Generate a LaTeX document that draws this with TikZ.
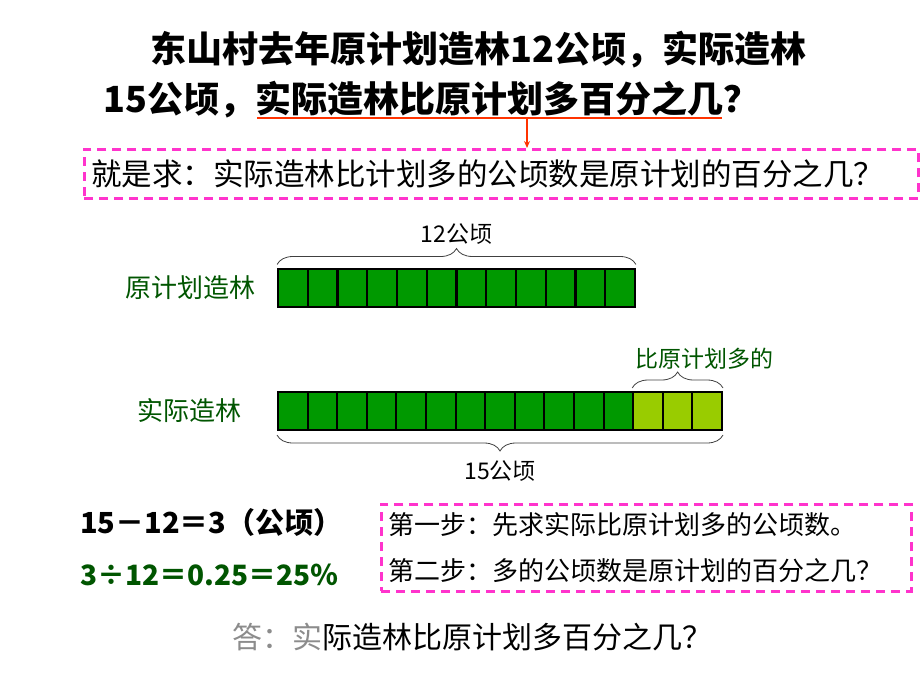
\documentclass[tikz,border=0pt]{standalone}
\usepackage{fontspec}
\newfontfamily\cjk{Noto Sans CJK SC}
\usetikzlibrary{arrows.meta,positioning,calc,decorations.pathreplacing}
\definecolor{cellgreen}{RGB}{0,153,0}
\definecolor{extragreen}{RGB}{153,204,0}
\definecolor{labelgreen}{RGB}{0,85,0}
\definecolor{hintpink}{RGB}{255,51,204}
\definecolor{markred}{RGB}{255,51,0}

\begin{document}
\begin{tikzpicture}[x=1pt, y=-1pt,
      font=\cjk,
      title/.style={font=\cjk\bfseries\fontsize{36}{40}\selectfont, anchor=west, inner sep=0pt},
      cell/.style={draw, line width=2pt, fill=cellgreen, minimum width=29.6pt, minimum height=38pt, inner sep=0pt},
      extra/.style={cell, fill=extragreen},
      barlabel/.style={font=\cjk\fontsize{26}{30}\selectfont, text=labelgreen, anchor=west, inner sep=0pt},
      hintbox/.style={draw=hintpink, dash pattern=on 9pt off 6pt, line width=2.5pt, align=left, inner xsep=7pt, anchor=north west},
      brace/.style={decorate, decoration={brace, amplitude=16pt}, line width=0.8pt, draw=black!75},
      bracelabel/.style={font=\cjk\fontsize{23}{26}\selectfont, inner sep=1pt},
      calc/.style={font=\cjk\bfseries\fontsize{29}{32}\selectfont, anchor=west, inner sep=0pt}
    ]
    \useasboundingbox (0,0) rectangle (920,690);

    % question
    \node[title] (line1) at (150,50) {东山村去年原计划造林12公顷，实际造林};
    \node[title] (line2) at (103,100) {15公顷，实际造林比原计划多百分之几？};
    \coordinate (ulstart) at (257,118);
    \coordinate (ulend) at (722,118);
    \coordinate (mark) at (527,118);
    \draw[markred, line width=2.5pt] (ulstart) -- (ulend);

    \node[hintbox, text width=820pt, minimum height=49pt, font=\cjk\fontsize{30.5}{34}\selectfont] (hint) at (83,148) {就是求：实际造林比计划多的公顷数是原计划的百分之几？};
    \draw[markred, line width=1.2pt, -{Stealth[length=7pt, width=6pt]}] (mark) -- (mark |- hint.north);

    % bars
    \node[barlabel] (planlabel) at (125,288) {原计划造林};
    \node[barlabel] (actuallabel) at (137,411) {实际造林};
    \foreach \i in {1,...,12}
      \node[cell] (p\i) at ({278+29.75*(\i-0.5)},287.5) {};
    \foreach \i in {1,...,12}
      \node[cell] (q\i) at ({278+29.6*(\i-0.5)},411) {};
    \foreach \i in {13,14,15}
      \node[extra] (q\i) at ({278+29.6*(\i-0.5)},411) {};

    \draw[brace] ([yshift=3pt]p1.north west) -- ([yshift=3pt]p12.north east)
      node[bracelabel, midway, above=19pt] (planbrace) {12公顷};
    \draw[brace] ([yshift=3pt]q13.north west) -- ([yshift=3pt]q15.north east)
      node[bracelabel, midway, above=17pt, xshift=27pt, text=labelgreen] (morebrace) {比原计划多的};
    \draw[brace] ([yshift=-4pt]q15.south east) -- ([yshift=-4pt]q1.south west)
      node[bracelabel, midway, below=24pt] (actualbrace) {15公顷};

    % working
    \node[calc] (minus) at (80,522) {15－12＝3（公顷）};
    \node[calc, text=labelgreen, font=\cjk\bfseries\fontsize{28}{32}\selectfont] (divide) at (80,575) {3÷12＝0.25＝25％};
    \node[hintbox, text width=516pt, minimum height=87pt, font=\cjk\fontsize{26}{46}\selectfont] (steps) at (380,503)
      {第一步：先求实际比原计划多的公顷数。\\第二步：多的公顷数是原计划的百分之几？};

    \node[font=\cjk\fontsize{30}{34}\selectfont, anchor=west, inner sep=0pt] (answer) at (232,637)
      {\textcolor{black!45}{答：实}际造林比原计划多百分之几？};
  \end{tikzpicture}
\end{document}
